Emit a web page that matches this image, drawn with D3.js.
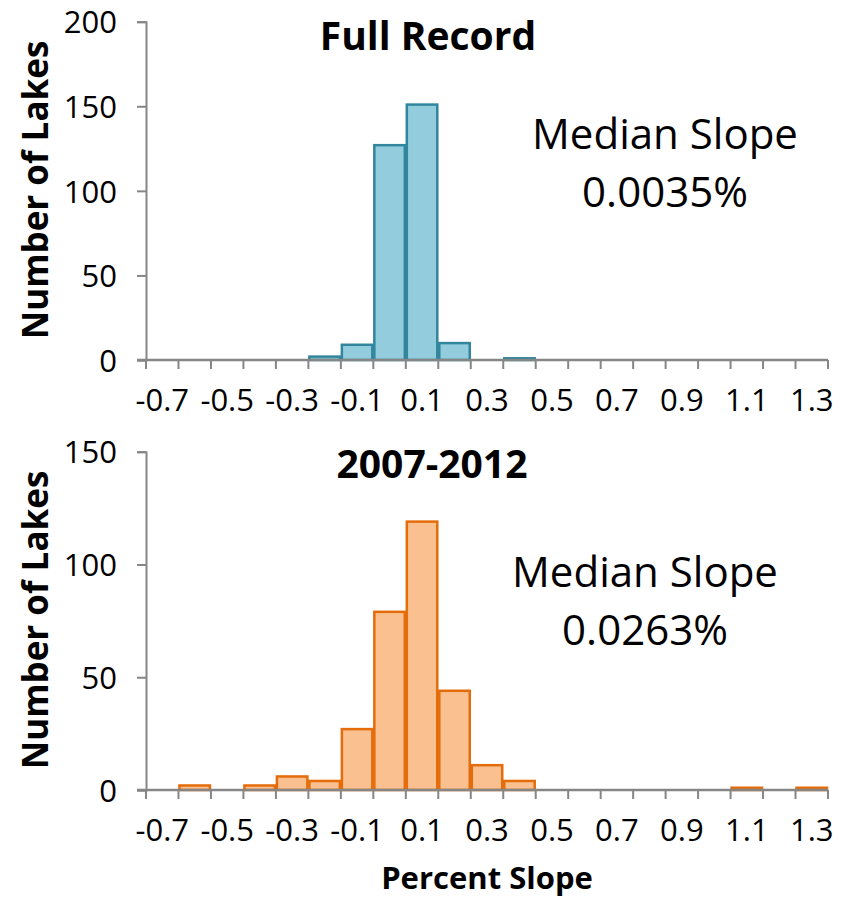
<!DOCTYPE html>
<html><head><meta charset="utf-8">
<script src="https://cdn.jsdelivr.net/npm/d3@7"></script>
<style>
body{margin:0;background:#fff;}
text{font-family:"Open Sans","Noto Sans",sans-serif;fill:#000;}
</style></head>
<body><svg id="c" width="843" height="900"></svg>
<script>
const categories = ["-0.7","-0.6","-0.5","-0.4","-0.3","-0.2","-0.1","0.0","0.1","0.2","0.3","0.4","0.5","0.6","0.7","0.8","0.9","1.0","1.1","1.2","1.3"];
const tickLabels = ["-0.7","-0.5","-0.3","-0.1","0.1","0.3","0.5","0.7","0.9","1.1","1.3"];
const fullRecord = [0,0,0,0,0,2,9,127,151,10,0,1,0,0,0,0,0,0,0,0,0];
const recent = [0,2,0,2,6,4,27,79,119,44,11,4,0,0,0,0,0,0,1,0,1];
const fullTicks = [0,50,100,150,200];
const recentTicks = [0,50,100,150];

const svg = d3.select("#c");
const x = d3.scaleBand().domain(categories).range([146,828]).padding(0);

function panel(cfg){
  const g = svg.append("g");
  const y = d3.scaleLinear().domain([0, cfg.max]).range([cfg.y0, cfg.y1]);
  g.selectAll("rect.bar").data(cfg.values.map((v,i)=>({c:categories[i],v})).filter(d=>d.v>0))
    .enter().append("rect")
    .attr("x", d=>x(d.c)+1).attr("width", x.bandwidth()-2)
    .attr("y", d=>y(d.v)).attr("height", d=>y(0)-y(d.v))
    .attr("fill", cfg.fill).attr("stroke", cfg.stroke).attr("stroke-width",2.5);
  const ya = d3.axisLeft(y).tickValues(cfg.ticks).tickSize(9).tickPadding(20).tickFormat(d3.format("d"));
  const yg = g.append("g").attr("transform",`translate(146,0)`).call(ya);
  yg.select(".domain").attr("stroke","#868686").attr("stroke-width",2);
  yg.selectAll(".tick line").attr("stroke","#868686").attr("stroke-width",2);
  yg.selectAll(".tick text").style("font-size","31px").attr("dy","0.36em");
  const boundaries = categories.map(c=>x(c)).concat([x.range()[1]]);
  g.selectAll("line.xt").data(boundaries).enter().append("line")
    .attr("x1",d=>d).attr("x2",d=>d).attr("y1",y(0)).attr("y2",y(0)+9)
    .attr("stroke","#868686").attr("stroke-width",2);
  g.append("line").attr("x1",137).attr("x2",828).attr("y1",y(0)).attr("y2",y(0))
    .attr("stroke","#868686").attr("stroke-width",2.5);
  const xa = d3.axisBottom(x).tickValues(tickLabels).tickSize(0).tickPadding(29);
  const xg = g.append("g").attr("transform",`translate(0,${y(0)})`).call(xa);
  xg.select(".domain").remove();
  xg.selectAll(".tick text").style("font-size","31px");
  g.append("text").attr("x",cfg.titleX).attr("y",cfg.titleY).attr("text-anchor","middle")
    .style("font-size","39px").style("font-weight","bold").text(cfg.title);
  g.append("text").attr("x",cfg.annX).attr("y",cfg.annY).attr("text-anchor","middle")
    .style("font-size","42px").text("Median Slope");
  g.append("text").attr("x",cfg.annX).attr("y",cfg.annY+58).attr("text-anchor","middle")
    .style("font-size","42px").text(cfg.median);
  g.append("text").attr("transform",`translate(48,${cfg.labelY}) rotate(-90)`).attr("text-anchor","middle")
    .style("font-size","35px").style("font-weight","bold").text("Number of Lakes");
}

panel({values:fullRecord,max:200,ticks:fullTicks,y0:360,y1:21.7,fill:"#93CDDD",stroke:"#31859C",
  title:"Full Record",titleX:428,titleY:50,annX:665,annY:149,median:"0.0035%",labelY:190});
panel({values:recent,max:150,ticks:recentTicks,y0:790,y1:451.7,fill:"#FAC090",stroke:"#E46C0A",
  title:"2007-2012",titleX:432,titleY:478,annX:645,annY:587,median:"0.0263%",labelY:620});

svg.append("text").attr("x",487).attr("y",889).attr("text-anchor","middle")
  .style("font-size","31px").style("font-weight","bold").text("Percent Slope");
</script></body></html>
